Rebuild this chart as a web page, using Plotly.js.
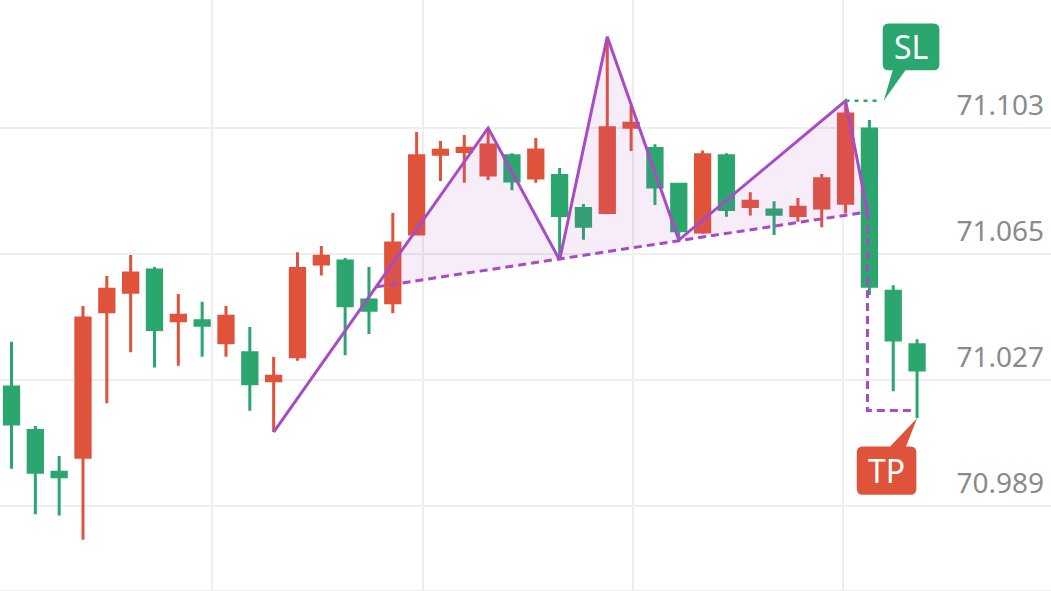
<!DOCTYPE html>
<html>
<head>
<meta charset="utf-8">
<script src="https://cdn.plot.ly/plotly-3.0.1.min.js"></script>
<style>html,body{margin:0;padding:0;background:#fff;}#chart{width:1051px;height:591px;}</style>
</head>
<body>
<div id="chart"></div>
<script>
// ---- candle data (bar index 0..38) ----
const barIndex = [0,1,2,3,4,5,6,7,8,9,10,11,12,13,14,15,16,17,18,19,20,21,22,23,24,25,26,27,28,29,30,31,32,33,34,35,36,37,38];
const openVals  = [71.0249,71.0118,70.9992,71.0037,71.0476,71.0535,71.0602,71.0449,71.0449,71.0382,71.0352,71.0268,71.0340,71.0620,71.0629,71.0511,71.0503,71.0710,71.0951,71.0959,71.0888,71.0946,71.0879,71.0887,71.0787,71.0775,71.1032,71.0968,71.0860,71.0716,71.0946,71.0793,71.0783,71.0766,71.0789,71.0803,71.1027,71.0538,71.0376];
const highVals  = [71.0385,71.0131,71.0041,71.0493,71.0584,71.0647,71.0611,71.0529,71.0506,71.0493,71.0430,71.0339,71.0655,71.0674,71.0638,71.0611,71.0774,71.1018,71.0991,71.1009,71.1030,71.0954,71.1000,71.0909,71.0801,71.1305,71.1098,71.0981,71.0863,71.0962,71.0954,71.0836,71.0809,71.0819,71.0891,71.1112,71.1054,71.0556,71.0393];
const lowVals   = [71.0002,70.9865,70.9861,70.9788,71.0200,71.0354,71.0308,71.0313,71.0340,71.0340,71.0177,71.0113,71.0328,71.0585,71.0345,71.0409,71.0471,71.0706,71.0870,71.0865,71.0873,71.0842,71.0865,71.0632,71.0693,71.0770,71.0961,71.0798,71.0692,71.0711,71.0762,71.0766,71.0707,71.0747,71.0731,71.0773,71.0526,71.0236,71.0155];
const closeVals = [71.0137,70.9992,70.9978,71.0457,71.0544,71.0593,71.0422,71.0465,71.0435,71.0462,71.0259,71.0281,71.0606,71.0643,71.0494,71.0480,71.0683,71.0946,71.0963,71.0969,71.0979,71.0870,71.0964,71.0766,71.0734,71.1031,71.1044,71.0852,71.0720,71.0949,71.0784,71.0809,71.0770,71.0791,71.0877,71.1072,71.0553,71.0391,71.0300];

// ---- pattern overlay (zigzag pivots, neckline, targets) ----
const zigzagX = [11, 20, 23, 25, 28, 35, 35.92];
const zigzagY = [71.0113, 71.1030, 71.0632, 71.1305, 71.0692, 71.1112, 71.0777];
const necklineX = [15.33, 35.92];
const necklineY = [71.0551, 71.0777];
const fillX = [15.33, 20, 23, 25, 28, 35, 35.92, 15.33];
const fillY = [71.0551, 71.1030, 71.0632, 71.1305, 71.0692, 71.1112, 71.0777, 71.0551];
const tpPathX = [35.92, 35.92, 37.78];
const tpPathY = [71.0777, 71.0178, 71.0178];
const slPathX = [35, 36.31];
const slPathY = [71.1112, 71.1112];
const slTip = {x: 36.6, y: 71.1112, label: 'SL'};
const tpTip = {x: 38, y: 71.0155, label: 'TP'};

// ---- axis ticks ----
const yTickVals = [70.989, 71.027, 71.065, 71.103];
const yTickText = ['70.989', '71.027', '71.065', '71.103'];
const xGridVals = [8.41, 17.27, 26.08, 34.89];

const RED = '#E0533B', GREEN = '#2BA66F', PURPLE = '#A84BC4';

const traces = [
  {
    type: 'candlestick', x: barIndex, open: openVals, high: highVals, low: lowVals, close: closeVals,
    increasing: {line: {color: RED, width: 3}, fillcolor: RED},
    decreasing: {line: {color: GREEN, width: 3}, fillcolor: GREEN},
    whiskerwidth: 0, hoverinfo: 'skip', showlegend: false
  },
  {type: 'scatter', mode: 'lines', x: fillX, y: fillY, fill: 'toself', fillcolor: 'rgba(168,75,196,0.10)', line: {width: 0}, hoverinfo: 'skip', showlegend: false},
  {type: 'scatter', mode: 'lines', x: necklineX, y: necklineY, line: {color: PURPLE, width: 3, dash: '8px,5px'}, hoverinfo: 'skip', showlegend: false},
  {type: 'scatter', mode: 'lines', x: tpPathX, y: tpPathY, line: {color: PURPLE, width: 3, dash: '8px,5px'}, hoverinfo: 'skip', showlegend: false},
  {type: 'scatter', mode: 'lines', x: zigzagX, y: zigzagY, line: {color: PURPLE, width: 3}, hoverinfo: 'skip', showlegend: false},
  {type: 'scatter', mode: 'lines', x: slPathX, y: slPathY, line: {color: GREEN, width: 2.5, dash: '4px,5px'}, hoverinfo: 'skip', showlegend: false}
];

const slBubble = 'M 9,30.6 L 0,0 L 21.7,30.6 L 49.7,30.6 Q 55.7,30.6 55.7,36.6 L 55.7,71.3 Q 55.7,77.3 49.7,77.3 L 5,77.3 Q -1,77.3 -1,71.3 L -1,36.6 Q -1,30.6 5,30.6 Z';
const tpBubble = 'M -27,-28.4 L 0,0 L -11,-28.4 L -6.7,-28.4 Q -0.7,-28.4 -0.7,-34.4 L -0.7,-70.7 Q -0.7,-76.7 -6.7,-76.7 L -54.3,-76.7 Q -60.3,-76.7 -60.3,-70.7 L -60.3,-34.4 Q -60.3,-28.4 -54.3,-28.4 Z';

const layout = {
  width: 1051, height: 591,
  margin: {l: 0, r: 0, t: 0, b: 1, pad: 0},
  paper_bgcolor: '#ffffff', plot_bgcolor: '#ffffff',
  showlegend: false,
  boxgap: 0.4, boxgroupgap: 0,
  font: {family: 'Noto Sans, sans-serif'},
  xaxis: {
    type: 'linear', range: [-0.483, 43.62], rangeslider: {visible: false},
    tickmode: 'array', tickvals: xGridVals, showticklabels: false, ticks: '',
    showgrid: true, gridcolor: '#EEEEEE', gridwidth: 1.5, zeroline: false,
    showline: true, linecolor: '#EEEEEE', linewidth: 1.5, fixedrange: true
  },
  yaxis: {
    range: [70.963667, 71.141603], side: 'right',
    tickmode: 'array', tickvals: yTickVals, ticktext: yTickText,
    ticklabelposition: 'inside top', ticks: '',
    ticklabelstandoff: 4, ticklabelshift: -3,
    tickfont: {family: 'Noto Sans, sans-serif', size: 28, color: '#8A8A8A'},
    showgrid: true, gridcolor: '#EEEEEE', gridwidth: 1.5, zeroline: false, showline: false, fixedrange: true
  },
  shapes: [
    {type: 'path', layer: 'above', xref: 'x', yref: 'y', xsizemode: 'pixel', ysizemode: 'pixel', xanchor: slTip.x, yanchor: slTip.y, path: slBubble, fillcolor: GREEN, line: {width: 0}},
    {type: 'path', layer: 'above', xref: 'x', yref: 'y', xsizemode: 'pixel', ysizemode: 'pixel', xanchor: tpTip.x, yanchor: tpTip.y, path: tpBubble, fillcolor: RED, line: {width: 0}}
  ],
  annotations: [
    {x: slTip.x, y: slTip.y, xref: 'x', yref: 'y', text: slTip.label, showarrow: false, xshift: 27.4, yshift: 53.9, xanchor: 'center', yanchor: 'middle', font: {family: 'Noto Sans, sans-serif', size: 32, color: '#ffffff'}},
    {x: tpTip.x, y: tpTip.y, xref: 'x', yref: 'y', text: tpTip.label, showarrow: false, xshift: -30.5, yshift: -52.6, xanchor: 'center', yanchor: 'middle', font: {family: 'Noto Sans, sans-serif', size: 32, color: '#ffffff'}}
  ]
};

Plotly.newPlot('chart', traces, layout, {displayModeBar: false, staticPlot: true});
</script>
</body>
</html>
